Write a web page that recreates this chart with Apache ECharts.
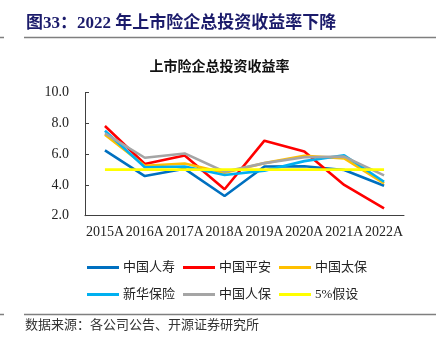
<!DOCTYPE html>
<html>
<head>
<meta charset="utf-8">
<script src="https://cdn.jsdelivr.net/npm/echarts@6/dist/echarts.min.js"></script>
<style>
html,body{margin:0;padding:0;background:#fff;}
#c{width:439px;height:352px;}
</style>
</head>
<body>
<div id="c"></div>
<script>
const categories = ['2015A','2016A','2017A','2018A','2019A','2020A','2021A','2022A'];
const chinaLife   = [6.25, 4.58, 5.05, 3.28, 5.2, 5.22, 4.97, 3.95];
const pingAn      = [7.83, 5.36, 5.92, 3.72, 6.88, 6.18, 4.0, 2.48];
const cpic        = [7.27, 5.25, 5.4, 4.8, 5.42, 5.9, 5.73, 4.1];
const newChina    = [7.53, 5.15, 5.2, 4.65, 4.93, 5.55, 5.93, 4.21];
const picc        = [7.36, 5.77, 6.05, 4.86, 5.42, 5.8, 5.84, 4.62];
const assume5     = [5.0, 5.0, 5.0, 5.0, 5.0, 5.0, 5.0, 5.0];
const seriesNames = ['中国人寿','中国平安','中国太保','新华保险','中国人保','5%假设'];
const yTicks = [2.0, 4.0, 6.0, 8.0, 10.0];

const colors = ['#0070C0','#FF0000','#FFC000','#00B0F0','#A5A5A5','#FFFF00'];
const dataSets = [chinaLife, pingAn, cpic, newChina, picc, assume5];

const chart = echarts.init(document.getElementById('c'), null, {renderer:'canvas'});
const serif = '"Liberation Serif","Times New Roman","Noto Sans CJK SC",serif';
const cjk = '"Noto Sans CJK SC","Liberation Serif",serif';

const legendCommon = {
  icon: 'rect',
  itemWidth: 32,
  itemHeight: 3,
  itemGap: 8,
  left: 87,
  textStyle: {fontFamily: serif, fontSize: 13, color: '#222', padding:[0,0,0,-1]},
  padding: 0
};

chart.setOption({
  animation: false,
  color: colors,
  title: {
    text: '上市险企总投资收益率',
    left: 'center',
    top: 54,
    textStyle: {fontFamily: cjk, fontSize: 14, fontWeight: 'bold', color: '#111'}
  },
  legend: [
    Object.assign({}, legendCommon, {top: 261, data: seriesNames.slice(0,3)}),
    Object.assign({}, legendCommon, {top: 288, data: seriesNames.slice(3)})
  ],
  grid: {left: 85, right: 35, top: 92.7, bottom: 136.3, containLabel: false},
  xAxis: {
    type: 'category',
    data: categories,
    boundaryGap: true,
    axisLine: {lineStyle: {color: '#404040', width: 1}},
    axisTick: {inside: true, length: 5, lineStyle: {color: '#404040'}},
    axisLabel: {interval: 0, fontFamily: serif, fontSize: 14, color: '#222', margin: 10}
  },
  yAxis: {
    type: 'value',
    min: yTicks[0],
    max: yTicks[yTicks.length-1],
    interval: 2,
    splitLine: {show: false},
    axisLine: {show: true, lineStyle: {color: '#404040', width: 1}},
    axisTick: {show: true, inside: true, length: 4, lineStyle: {color: '#404040'}},
    axisLabel: {fontFamily: serif, fontSize: 14, color: '#222', margin: 16,
      formatter: v => v.toFixed(1)}
  },
  series: dataSets.map((d, i) => ({
    name: seriesNames[i],
    type: 'line',
    data: d,
    showSymbol: false,
    symbol: 'none',
    lineStyle: {width: 2.6, color: colors[i]},
    itemStyle: {color: colors[i]}
  })),
  graphic: [
    {type: 'text', left: 26, top: 15, style: {text: '图33：2022 年上市险企总投资收益率下降', font: 'bold 17px ' + serif, fill: '#1B1B6B'}},
    {type: 'line', shape: {x1: 24, y1: 37.5, x2: 436, y2: 37.5}, style: {stroke: '#7f7f7f', lineWidth: 1.5}},
    {type: 'line', shape: {x1: 0, y1: 37.5, x2: 4, y2: 37.5}, style: {stroke: '#7f7f7f', lineWidth: 1.5}},
    {type: 'line', shape: {x1: 24, y1: 314.5, x2: 436, y2: 314.5}, style: {stroke: '#7f7f7f', lineWidth: 1.5}},
    {type: 'line', shape: {x1: 0, y1: 314.5, x2: 4, y2: 314.5}, style: {stroke: '#7f7f7f', lineWidth: 1.5}},
    {type: 'text', left: 25, top: 319, style: {text: '数据来源：各公司公告、开源证券研究所', font: '13px ' + serif, fill: '#333'}}
  ]
});
</script>
</body>
</html>
